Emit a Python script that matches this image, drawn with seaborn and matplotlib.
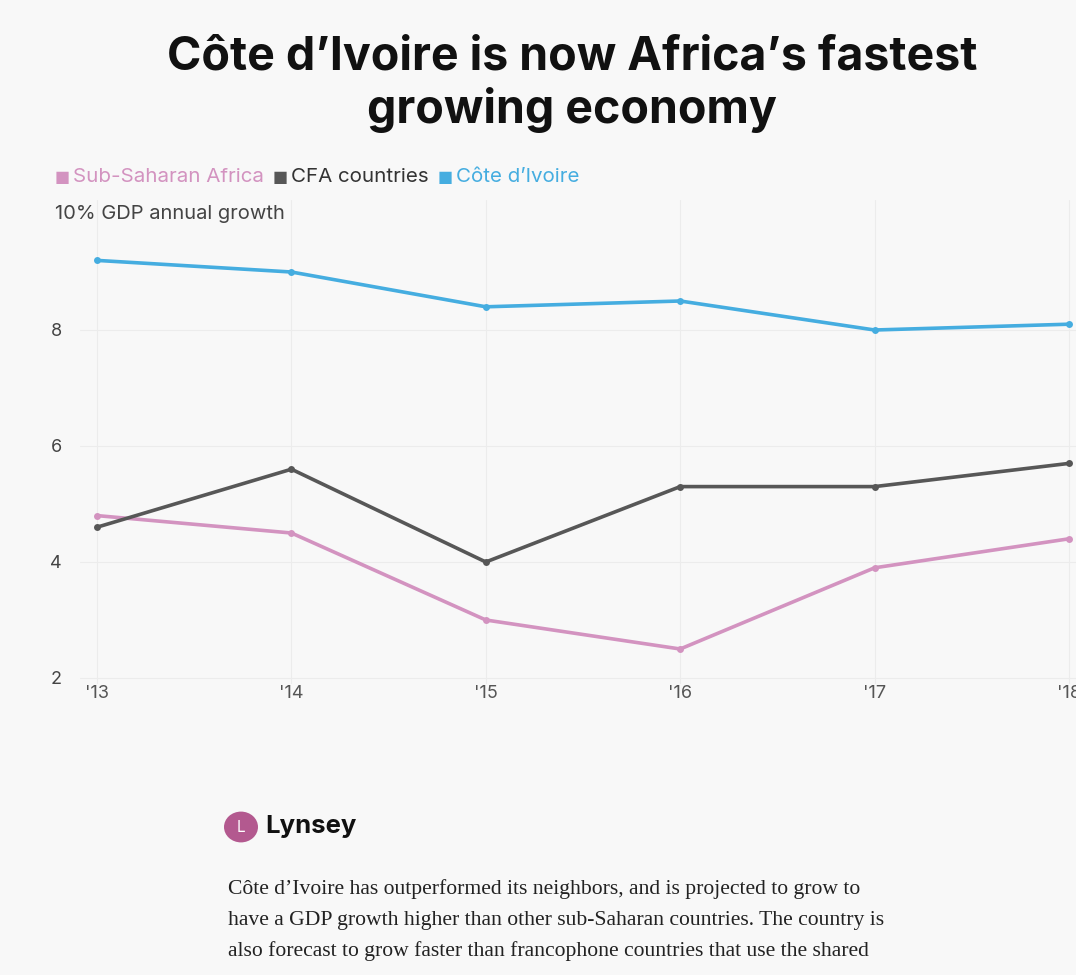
import pandas as pd
import matplotlib.pyplot as plt
import seaborn as sns
from matplotlib.patches import Circle

years = [2013, 2014, 2015, 2016, 2017, 2018]
year_labels = ["'13", "'14", "'15", "'16", "'17", "'18"]
sub_saharan = [4.8, 4.5, 3.0, 2.5, 3.9, 4.4]
cfa = [4.6, 5.6, 4.0, 5.3, 5.3, 5.7]
cote_divoire = [9.2, 9.0, 8.4, 8.5, 8.0, 8.1]
series_names = ['Sub-Saharan Africa', 'CFA countries', "Côte d’Ivoire"]
colors = ['#d393c0', '#575757', '#45ade0']
y_ticks = [2, 4, 6, 8]

df = pd.DataFrame({
    'year': years * 3,
    'growth': sub_saharan + cfa + cote_divoire,
    'series': [series_names[0]] * 6 + [series_names[1]] * 6 + [series_names[2]] * 6,
})

bg = '#f8f8f8'
sns.set_theme(style='white')
plt.rcParams['font.family'] = ['Inter', 'DejaVu Sans']

fig = plt.figure(figsize=(10.76, 9.75), dpi=100, facecolor=bg)
W, H = 1076, 975
# axes in pixel coords
ax = fig.add_axes([80 / W, 1 - 684 / H, (1076 - 80) / W, (684 - 200) / H])
ax.set_facecolor(bg)

sns.lineplot(data=df, x='year', y='growth', hue='series', palette=colors,
             hue_order=series_names, marker='o', markersize=5, markeredgewidth=0,
             linewidth=2.6, ax=ax, legend=False)

ax.set_xlim(2013 - 17 / 194, 2018 + 7 / 194)
ax.set_ylim(2 - 6 / 58, 10 + 14 / 58)
ax.set_xticks(years)
ax.set_xticklabels(year_labels, fontsize=13, color='#555555')
ax.set_yticks(y_ticks)
ax.set_yticklabels([str(t) for t in y_ticks], fontsize=13, color='#444444')
ax.tick_params(axis='both', length=0)
ax.tick_params(axis='y', pad=13)
ax.tick_params(axis='x', pad=1)
ax.grid(True, color='#ececec', linewidth=0.8)
ax.set_xlabel('')
ax.set_ylabel('')
for s in ax.spines.values():
    s.set_visible(False)

fig.text(55 / W, 1 - 214 / H, '10% GDP annual growth', fontsize=14.5, color='#444444',
         va='center', ha='left')

# title
fig.text(572 / W, 1 - 57 / H, "Côte d’Ivoire is now Africa’s fastest", fontsize=33.5,
         fontweight='bold', ha='center', va='center', color='#111111')
fig.text(572 / W, 1 - 110 / H, 'growing economy', fontsize=33.5,
         fontweight='bold', ha='center', va='center', color='#111111')

# legend
x = 55
for name, c in zip(series_names, colors):
    fig.text(x / W, 1 - 177 / H, '■', fontsize=11.5, color=c, va='center', ha='left',
             family=['DejaVu Sans'])
    t = fig.text((x + 18) / W, 1 - 177 / H, name, fontsize=14.8, va='center', ha='left',
                 color=c if name != 'CFA countries' else '#333333')
    fig.canvas.draw()
    bb = t.get_window_extent()
    x = bb.x1 + 9

# author
fig.patches.append(Circle((241 / W, 1 - 827 / H), 17 / W, transform=fig.transFigure,
                          facecolor='#b3598f', edgecolor='none'))
fig.text(241 / W, 1 - 827 / H, 'L', fontsize=11, color='white', ha='center', va='center')
fig.text(265 / W, 1 - 826 / H, 'Lynsey', fontsize=18.5, fontweight='bold', ha='left',
         va='center', color='#111111')

para = ["Côte d’Ivoire has outperformed its neighbors, and is projected to grow to",
        'have a GDP growth higher than other sub-Saharan countries. The country is',
        'also forecast to grow faster than francophone countries that use the shared']
for i, line in enumerate(para):
    fig.text(228 / W, 1 - (889 + 31 * i) / H, line, fontsize=15.6, ha='left', va='center',
             color='#222222', family=['Liberation Serif', 'DejaVu Serif'])

fig.savefig('out.png', dpi=100, facecolor=bg)
